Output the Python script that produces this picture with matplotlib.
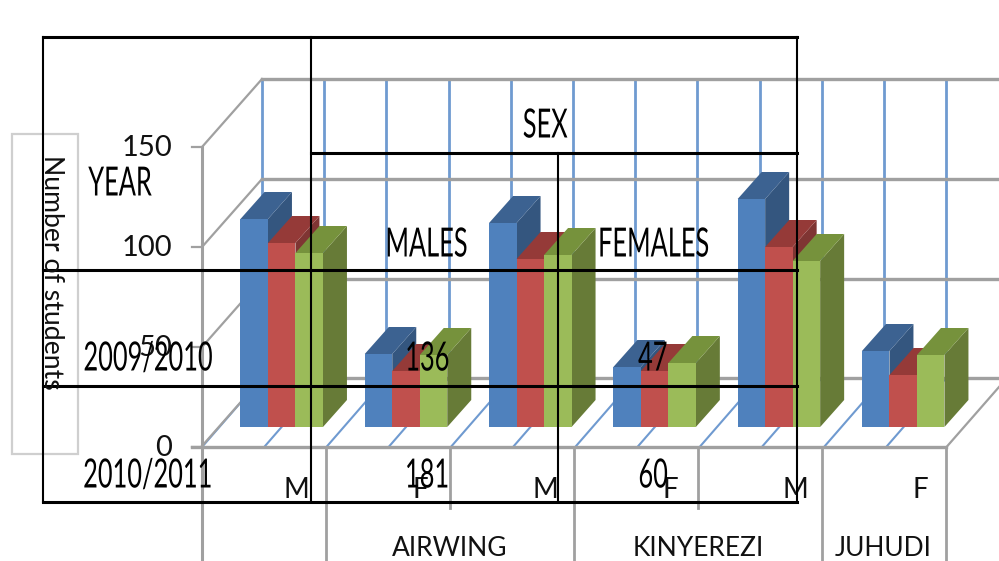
import matplotlib
matplotlib.use("Agg")
import matplotlib.pyplot as plt
import matplotlib.patheffects as pe
from matplotlib.transforms import Affine2D

# ---- data ----
sites = ["AIRWING", "KINYEREZI", "JUHUDI"]
sexes = ["M", "F", "M", "F", "M", "F"]
series_2009 = [104, 36.5, 102, 30, 114, 38]
series_2010 = [92, 28, 84, 28, 90, 26]
series_2011 = [87, 36, 86, 32, 83, 36]
y_ticks = [0, 50, 100, 150]
y_title = "Number of students"
table_years = ["2009/2010", "2010/2011"]
table_males = ["136", "181"]
table_females = ["47", "60"]

# ---- styles ----
W, H = 999, 561
FONT = "Lato"
GRAY = "#a0a0a0"
BLUE_LINE = "#6f9ad0"
face_sets = [("#4f81bd", "#3c6291", "#34567f"),
             ("#c0504d", "#953a38", "#7f3533"),
             ("#9bbb59", "#76923c", "#677b37")]
plt.rcParams["font.family"] = [FONT, "DejaVu Sans"]


class Squeeze(pe.AbstractPathEffect):
    """Condense rendered glyphs horizontally around their own centre."""
    def __init__(self, sx):
        super().__init__()
        self.sx = sx

    def draw_path(self, renderer, gc, tpath, affine, rgbFace=None):
        ext = tpath.get_extents(affine)
        cx = (ext.x0 + ext.x1) / 2
        squeeze = Affine2D().translate(-cx, 0).scale(self.sx, 1).translate(cx, 0)
        renderer.draw_path(gc, tpath, affine + squeeze, rgbFace)


fig = plt.figure(figsize=(W / 100, H / 100), dpi=100, facecolor="white")


def layer(z):
    ax = fig.add_axes([0, 0, 1, 1], zorder=z)
    ax.set_axis_off()
    ax.patch.set_visible(False)
    return ax


# background frame in pixel units
bg = layer(1)
bg.set_xlim(0, W)
bg.set_ylim(H, 0)

# back wall, side wall, floor
for k in range(12):
    xb = 262 + 62.2 * k
    bg.plot([xb, xb], [79, 378], color=BLUE_LINE, lw=2, zorder=1)
    bg.plot([xb, xb - 60], [378, 447], color=BLUE_LINE, lw=1.5, zorder=1)
for yb in [79, 179, 279, 378]:
    bg.plot([262, W], [yb, yb], color=GRAY, lw=2.4, zorder=2)
    bg.plot([202, 262], [yb + 68, yb], color=GRAY, lw=1.6, zorder=2)
bg.plot([202, 202], [147, H], color=GRAY, lw=2.2, zorder=2)
bg.plot([192, 946], [447, 447], color=GRAY, lw=2.4, zorder=2)
bg.plot([946.5, W], [447, 387], color=GRAY, lw=1.6, zorder=2)
for v in y_ticks:
    y = 447 - 2 * v
    bg.plot([192, 202], [y, y], color=GRAY, lw=1.6, zorder=2)
    bg.text(172, y + 1, str(v), ha="right", va="center",
            fontsize=21, color="#111111", zorder=3)
for x, end in [(326, H), (450, 508), (574, H), (698, 508), (822, H), (946, H)]:
    bg.plot([x, x], [447, end], color=GRAY, lw=2, zorder=2)

# category labels
for i, s in enumerate(sexes):
    bg.text(296 + 124.8 * i, 490, s, ha="center", va="center", fontsize=20, color="#111111", zorder=3)
for name, x in zip(sites, [450, 698, 883]):
    bg.text(x, 548, name, ha="center", va="center", fontsize=19, color="#111111", zorder=3)

# bars in data units: x = group index, y = value (2 px per student)
bars = layer(2)
spacing = 124.3
bars.set_xlim(-281.7 / spacing, (W - 281.7) / spacing)
bars.set_ylim(-(H - 427) / 2, 427 / 2)
bw = 27.5 / spacing
dx = 24 / spacing
dy = 13.5
for i, vals in enumerate(zip(series_2009, series_2010, series_2011)):
    for j, v in enumerate(vals):
        x0 = i + (j - 1.5) * bw
        x1 = x0 + bw
        front, top, side = face_sets[j]
        bars.fill([x1, x1 + dx, x1 + dx, x1], [0, dy, v + dy, v], color=side, lw=0, zorder=3 + j)
        bars.fill([x0, x1, x1 + dx, x0 + dx], [v, v, v + dy, v + dy], color=top, lw=0, zorder=3 + j)
        bars.bar(x0, v, width=bw, align="edge", color=front, lw=0, zorder=3 + j)

# overlaid table and axis-title box in pixel units
top = layer(3)
top.set_xlim(0, W)
top.set_ylim(H, 0)
top.add_patch(plt.Rectangle((12, 134), 66, 320, fill=False, ec="#cfcfcf", lw=1.6))
top.text(51, 272, y_title, rotation=-90, ha="center", va="center", fontsize=19.2, color="#111111")

K = "black"
THICK, THIN = 2.2, 1.5
top.plot([42.5, 797], [36.5, 36.5], color=K, lw=THICK)
top.plot([42.5, 797], [502, 502], color=K, lw=THICK)
top.plot([42.5, 42.5], [36.5, 502], color=K, lw=THIN)
top.plot([797, 797], [36.5, 502], color=K, lw=THIN)
top.plot([310.5, 310.5], [36.5, 502], color=K, lw=THIN)
top.plot([557.5, 557.5], [153, 502], color=K, lw=THIN)
top.plot([310.5, 797], [153, 153], color=K, lw=THICK)
top.plot([42.5, 797], [270, 270], color=K, lw=THICK)
top.plot([42.5, 797], [386, 386], color=K, lw=THICK)

squeeze = [Squeeze(0.63)]


def cell(x, y, s):
    top.text(x, y, s, ha="center", va="center", fontsize=29, color="black", path_effects=squeeze)


cell(120, 184, "YEAR")
cell(545, 126, "SEX")
cell(426, 245, "MALES")
cell(653, 245, "FEMALES")
for y, yr, m, f in zip([359, 476], table_years, table_males, table_females):
    cell(148, y, yr)
    cell(427, y, m)
    cell(653, y, f)

fig.savefig("out.png", dpi=100, facecolor="white")
